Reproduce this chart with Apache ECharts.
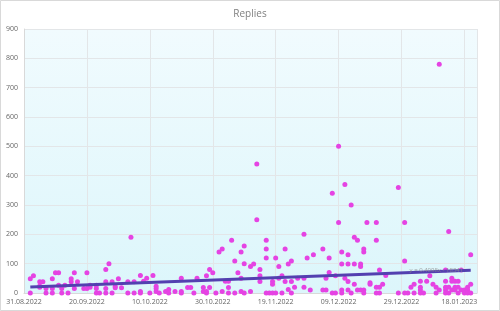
<!DOCTYPE html>
<html>
<head>
<meta charset="utf-8">
<script src="https://cdn.jsdelivr.net/npm/echarts@6/dist/echarts.min.js"></script>
<style>
html,body{margin:0;padding:0;background:#fff;}
#chart{width:500px;height:311px;}
</style>
</head>
<body>
<div id="chart"></div>
<script>
// X tick labels (every 20 days from 31.08.2022)
const xTickLabels = ['31.08.2022','20.09.2022','10.10.2022','30.10.2022','19.11.2022','09.12.2022','29.12.2022','18.01.2023'];
const title = 'Replies';
// Each point: [days since 31.08.2022, replies]
const replyPoints = [
  [2,49],[2,0],[3,59],[5,38],[5,24],[5,20],[6,38],[7,0],[7,15],[9,49],
  [9,15],[9,0],[10,69],[11,69],[11,26],[12,15],[12,0],[13,26],[14,0],[15,49],
  [15,38],[16,69],[16,15],[17,38],[19,15],[20,15],[20,69],[21,26],[21,20],[23,26],
  [23,15],[23,0],[24,0],[26,80],[27,100],[26,38],[28,38],[26,15],[26,0],[28,0],
  [29,22],[30,49],[29,18],[31,18],[33,38],[33,0],[34,190],[35,38],
  [35,0],[37,60],[38,40],[39,50],[41,60],[37,5],[37,0],[40,0],[42,23],[42,15],
  [42,5],[43,0],[45,5],[46,12],[46,0],[48,5],[50,50],[50,5],[50,0],[52,19],
  [53,19],[54,0],[55,50],[57,19],[57,5],[58,5],[58,59],[59,80],[59,19],[60,69],
  [58,0],[61,0],[63,5],[62,140],[63,150],[66,180],[64,40],[65,40],[65,19],[65,0],
  [67,109],[68,69],[69,50],[69,140],[70,160],[70,100],[72,90],[67,0],[69,5],[70,0],
  [72,5],
  [74,440],[74,250],[77,180],[77,150],[77,119],[73,99],[75,80],[75,59],[75,39],[79,39],
  [79,30],[77,0],[78,0],[79,0],[80,0],[80,119],[81,90],[82,59],[81,50],[82,0],
  [83,150],[84,99],[85,109],[83,39],[84,12],[85,39],[86,20],[85,0],[87,50],[89,200],
  [89,50],[89,20],[90,119],[92,130],[91,10],[95,10],[96,10],[95,150],[97,70],[96,50],
  [97,119],[98,340],[99,59],[98,0],[100,240],[100,500],[102,370],[104,300],[101,140],[101,99],
  [103,130],[103,99],[102,50],[103,39],[105,30],[105,190],[106,180],[105,99],[107,99],[107,90],
  [108,150],[108,140],[109,240],[99,0],[101,10],[101,0],[103,10],[104,0],[106,10],[107,10],
  [108,10],[108,0],
  [112,240],[112,180],[119,360],[121,240],[121,109],[113,78],[115,60],[110,35],[110,30],[112,20],
  [113,20],[114,30],[112,0],[113,0],[119,0],[121,0],[122,0],[135,210],[142,130],[134,78],
  [139,78],[136,50],[136,40],[137,40],[138,40],[134,40],[128,40],[129,59],[126,40],[124,30],
  [123,20],[126,20],[126,10],[124,0],[126,0],[127,0],[130,30],[131,20],[131,0],[132,10],
  [134,20],[134,10],[135,20],[136,10],[137,20],[137,10],[138,20],[139,10],[140,10],[141,20],
  [141,10],[134,0],[135,0],[138,0],[140,0],[141,0],[142,0],[142,30],[132,780]
];
// Linear trendline endpoints
const trendDay = [2, 142];
const trendValue = [20.3, 77.7];
const trendLabel = 'y = 0.4098x - 18341';

const chart = echarts.init(document.getElementById('chart'), null, {renderer:'canvas'});
const FONT = 'Open Sans';
chart.setOption({
  animation:false,
  backgroundColor:'#ffffff',
  title:{text:title,left:'center',top:4,textStyle:{fontFamily:FONT,fontSize:10,fontWeight:'normal',color:'#808080'}},
  grid:{left:24,right:23,top:29,bottom:18,show:true,borderWidth:0,
    backgroundColor:new echarts.graphic.LinearGradient(0,0,0,1,[{offset:0,color:'#f1fbfe'},{offset:1,color:'#dcf6fb'}])},
  xAxis:{type:'value',min:0,max:144,interval:20,
    axisLine:{show:true,lineStyle:{color:'#d9d9d9'}},
    axisTick:{show:false},
    splitLine:{show:true,lineStyle:{color:'#e3e6e8',width:1}},
    axisLabel:{fontFamily:FONT,fontSize:7,color:'#666',margin:5,
      formatter:function(v){
        if (v % 20 !== 0) return '';
        const i = v/20;
        if (i === xTickLabels.length-1) return '{last|'+xTickLabels[i]+'}';
        return xTickLabels[i] || '';
      },
      rich:{last:{fontFamily:FONT,fontSize:7,color:'#666',padding:[0,10,0,0]}}
    }},
  yAxis:{type:'value',min:0,max:900,interval:100,
    axisLine:{show:true,lineStyle:{color:'#d9d9d9'}},
    axisTick:{show:false},
    splitLine:{show:true,lineStyle:{color:'#e3e6e8',width:1}},
    axisLabel:{fontFamily:FONT,fontSize:7,color:'#666',margin:6}},
  graphic:[{type:'rect',shape:{x:0.5,y:0.5,width:499,height:310},style:{fill:'none',stroke:'#d9d9d9',lineWidth:1},silent:true,z:100}],
  series:[
    {type:'scatter',data:replyPoints,symbol:'circle',symbolSize:5,
      itemStyle:{color:'#e543e3',opacity:1},z:2},
    {type:'line',data:trendDay.map((d,i)=>[d,trendValue[i]]),symbol:'none',
      lineStyle:{color:'#5340b0',width:3},z:3},
    {type:'scatter',data:[[trendDay[1],trendValue[1]]],symbolSize:1,
      itemStyle:{color:'rgba(0,0,0,0)'},z:4,silent:true,
      label:{show:true,formatter:trendLabel,position:'left',distance:7,fontFamily:FONT,fontSize:6,color:'#8a8a8a'}}
  ]
});
</script>
</body>
</html>
